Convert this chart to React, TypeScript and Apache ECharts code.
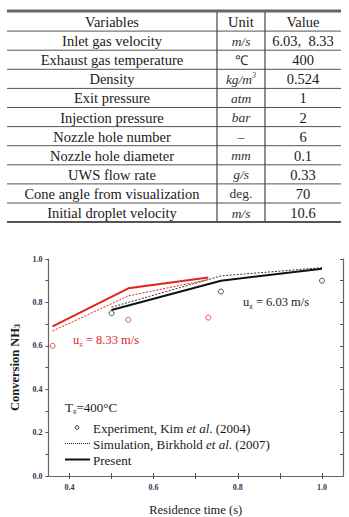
import React, { useEffect, useRef } from "react";
import * as echarts from "echarts";

// ---- table data ----
const tableVariables = [
  "Variables",
  "Inlet gas velocity",
  "Exhaust gas temperature",
  "Density",
  "Exit pressure",
  "Injection pressure",
  "Nozzle hole number",
  "Nozzle hole diameter",
  "UWS flow rate",
  "Cone angle from visualization",
  "Initial droplet velocity",
];
const tableUnits = ["Unit", "m/s", "℃", "kg/m3", "atm", "bar", "–", "mm", "g/s", "deg.", "m/s"];
const tableValues = ["Value", "6.03,  8.33", "400", "0.524", "1", "2", "6", "0.1", "0.33", "70", "10.6"];

// ---- chart data ----
const expRedX = [0.36, 0.54, 0.73];
const expRedY = [0.6, 0.72, 0.73];
const expBlackX = [0.5, 0.76, 1.0];
const expBlackY = [0.75, 0.85, 0.9];
const simRedX = [0.36, 0.54, 0.73];
const simRedY = [0.668, 0.83, 0.905];
const simBlackX = [0.5, 0.76, 1.0];
const simBlackY = [0.778, 0.922, 0.96];
const presentRedX = [0.36, 0.54, 0.73];
const presentRedY = [0.69, 0.865, 0.915];
const presentBlackX = [0.5, 0.76, 1.0];
const presentBlackY = [0.765, 0.9, 0.955];

const xTicks = [0.4, 0.5, 0.6, 0.7, 0.8, 0.9, 1.0];
const xLabels = [0.4, 0.6, 0.8, 1.0];
const yTicks = [0, 0.1, 0.2, 0.3, 0.4, 0.5, 0.6, 0.7, 0.8, 0.9, 1.0];
const yLabels = [0, 0.2, 0.4, 0.6, 0.8, 1.0];

const zip = (xs: number[], ys: number[]) => xs.map((x, i) => [x, ys[i]]);

const RED = "#e3231c";
const SERIF = "Liberation Serif";

function txt(x: number, y: number, text: string, size: number, fill: string, extra: any = {}) {
  return {
    type: "text",
    x,
    y,
    style: {
      text,
      fontFamily: SERIF,
      fontSize: size,
      fill,
      verticalAlign: "middle",
      ...extra,
    },
  };
}

function buildTable(): any[] {
  const els: any[] = [];
  const left = 7;
  const right = 341;
  const top = 12;
  const rowH = 19.1;
  const col1 = 217;
  const col2 = 265;
  const n = tableVariables.length;
  const bottom = top + rowH * n;
  const lineColor = "#555";
  els.push({ type: "line", shape: { x1: left, y1: top - 1, x2: right, y2: top - 1 }, style: { stroke: "#666", lineWidth: 3 } });
  els.push({ type: "line", shape: { x1: left, y1: bottom, x2: right, y2: bottom }, style: { stroke: "#555", lineWidth: 2 } });
  for (let i = 1; i < n; i++) {
    const y = top + rowH * i;
    els.push({ type: "line", shape: { x1: left, y1: y, x2: right, y2: y }, style: { stroke: lineColor, lineWidth: 1 } });
  }
  els.push({ type: "line", shape: { x1: col1, y1: top, x2: col1, y2: bottom }, style: { stroke: "#444", lineWidth: 1.2 } });
  els.push({ type: "line", shape: { x1: col2, y1: top, x2: col2, y2: bottom }, style: { stroke: "#444", lineWidth: 1.2 } });
  for (let i = 0; i < n; i++) {
    const cy = top + rowH * i + rowH / 2 + 0.5;
    els.push(txt((left + col1) / 2, cy, tableVariables[i], 14.5, "#1a1a1a", { align: "center" }));
    const u = tableUnits[i];
    const italic = i > 0 && u !== "℃" && u !== "–" && u !== "deg.";
    let unitText = u;
    if (u === "kg/m3") unitText = "kg/m{sup|3}";
    els.push(
      txt((col1 + col2) / 2, cy, unitText, i === 0 ? 14.5 : 13.5, i === 0 ? "#1a1a1a" : "#333", {
        align: "center",
        fontStyle: italic ? "italic" : "normal",
        rich: { sup: { fontSize: 8, fontStyle: "italic", fontFamily: SERIF, verticalAlign: "top", padding: [0, 0, 7, 0], fill: "#333" } },
      })
    );
    els.push(txt((col2 + right) / 2, cy, tableValues[i], 14.5, "#1a1a1a", { align: "center" }));
  }
  return els;
}

function buildLegend(): any[] {
  const els: any[] = [];
  els.push(
    txt(65, 407, "T{sub|g}=400°C", 13, "#1a1a1a", {
      rich: { sub: { fontSize: 7, fontFamily: SERIF, padding: [8, 0, 0, 0], fill: "#1a1a1a" } },
    })
  );
  els.push({ type: "circle", shape: { cx: 77, cy: 427.5, r: 1.8 }, style: { fill: "none", stroke: "#222", lineWidth: 1 } });
  els.push(
    txt(93, 428, "Experiment, Kim {it|et al}. (2004)", 13, "#1a1a1a", {
      rich: { it: { fontStyle: "italic", fontSize: 13, fontFamily: SERIF, fill: "#1a1a1a" } },
    })
  );
  els.push({ type: "line", shape: { x1: 65, y1: 443.5, x2: 90, y2: 443.5 }, style: { stroke: "#222", lineWidth: 1, lineDash: [1, 1] } });
  els.push(
    txt(93, 444, "Simulation, Birkhold {it|et al}. (2007)", 13, "#1a1a1a", {
      rich: { it: { fontStyle: "italic", fontSize: 13, fontFamily: SERIF, fill: "#1a1a1a" } },
    })
  );
  els.push({ type: "line", shape: { x1: 65, y1: 459.5, x2: 90, y2: 459.5 }, style: { stroke: "#111", lineWidth: 2 } });
  els.push(txt(93, 460, "Present", 13, "#1a1a1a"));
  els.push(
    txt(243, 302, "u{sub|g} = 6.03 m/s", 12.5, "#222", {
      rich: { sub: { fontSize: 7, fontFamily: SERIF, padding: [8, 0, 0, 0], fill: "#222" } },
    })
  );
  els.push(
    txt(73, 340, "u{sub|g} = 8.33 m/s", 12.5, RED, {
      rich: { sub: { fontSize: 7, fontFamily: SERIF, padding: [8, 0, 0, 0], fill: RED } },
    })
  );
  return els;
}

export default function App() {
  const ref = useRef<HTMLDivElement>(null);
  useEffect(() => {
    if (!ref.current) return;
    const chart = echarts.init(ref.current, undefined, { renderer: "svg" });
    const axisLine = { show: true, lineStyle: { color: "#666", width: 1.2 } };
    const tickStyle = { color: "#555", width: 1 };
    const labelStyle = { color: "#2b3550", fontSize: 8, fontWeight: "bold" as const, fontFamily: SERIF };
    chart.setOption({
      animation: false,
      backgroundColor: "#fff",
      grid: { left: 42, right: 6, top: 259, bottom: 38, containLabel: false },
      xAxis: [
        {
          type: "value",
          min: 0.35,
          max: 1.05,
          position: "bottom",
          axisLine,
          axisTick: { show: true, inside: true, length: 3, lineStyle: tickStyle, customValues: xTicks },
          axisLabel: { ...labelStyle, margin: 7, customValues: xLabels, formatter: (v: number) => v.toFixed(1) },
          splitLine: { show: false },
          name: "Residence time (s)",
          nameLocation: "middle",
          nameGap: 27,
          nameTextStyle: { fontFamily: SERIF, fontSize: 12.5, color: "#1a1a1a" },
        },
        {
          type: "value",
          min: 0.35,
          max: 1.05,
          position: "top",
          axisLine,
          axisTick: { show: true, inside: true, length: 3, lineStyle: tickStyle, customValues: xTicks },
          axisLabel: { show: false },
          splitLine: { show: false },
        },
      ],
      yAxis: [
        {
          type: "value",
          min: 0,
          max: 1,
          position: "left",
          axisLine,
          axisTick: { show: true, inside: false, length: 3, lineStyle: tickStyle, customValues: yTicks },
          axisLabel: { ...labelStyle, margin: 6, customValues: yLabels, formatter: (v: number) => v.toFixed(1) },
          splitLine: { show: false },
          name: "Conversion NH{sub|3}",
          nameLocation: "middle",
          nameGap: 26,
          nameRotate: 90,
          nameTextStyle: {
            fontFamily: SERIF,
            fontSize: 12.5,
            fontWeight: "bold",
            color: "#1a1a1a",
            rich: { sub: { fontFamily: SERIF, fontSize: 8, fontWeight: "bold", color: "#1a1a1a", padding: [6, 0, 0, 0] } },
          },
        },
        {
          type: "value",
          min: 0,
          max: 1,
          position: "right",
          axisLine,
          axisTick: { show: true, inside: true, length: 3, lineStyle: tickStyle, customValues: yTicks },
          axisLabel: { show: false },
          splitLine: { show: false },
        },
      ],
      series: [
        {
          type: "line",
          data: zip(simRedX, simRedY),
          symbol: "none",
          lineStyle: { color: RED, width: 1, type: [2, 1.5] },
        },
        {
          type: "line",
          data: zip(simBlackX, simBlackY),
          symbol: "none",
          lineStyle: { color: "#333", width: 1, type: [2, 1.5] },
        },
        {
          type: "line",
          data: zip(presentRedX, presentRedY),
          symbol: "none",
          lineStyle: { color: RED, width: 2 },
        },
        {
          type: "line",
          data: zip(presentBlackX, presentBlackY),
          symbol: "none",
          lineStyle: { color: "#111", width: 2 },
        },
        {
          type: "scatter",
          data: zip(expRedX, expRedY),
          symbol: "circle",
          symbolSize: 5,
          itemStyle: { color: "transparent", borderColor: RED, borderWidth: 1 },
        },
        {
          type: "scatter",
          data: zip(expBlackX, expBlackY),
          symbol: "circle",
          symbolSize: 5,
          itemStyle: { color: "transparent", borderColor: "#222", borderWidth: 1 },
        },
      ],
      graphic: [...buildTable(), ...buildLegend()],
    });
    return () => chart.dispose();
  }, []);
  return (
    <div
      ref={ref}
      style={{ position: "absolute", left: 0, top: 0, width: 349, height: 517, background: "#fff" }}
    />
  );
}
